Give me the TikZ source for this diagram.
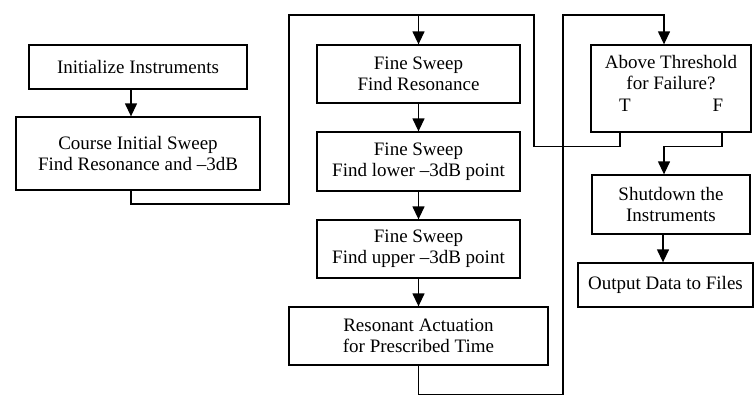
\documentclass[tikz,border=0pt]{standalone}
\usepackage{fontspec}
\setmainfont{Liberation Serif}
\usetikzlibrary{arrows.meta}

\begin{document}
\begin{tikzpicture}[x=1pt,y=-1pt,
    txt/.style={align=center, inner sep=0pt, font=\fontsize{19}{21}\selectfont},
    box/.style={txt, draw, line width=1.3pt},
    wire/.style={line width=1.3pt},
    arr/.style={wire, -{Triangle[length=13pt,width=12pt]}}]

    \useasboundingbox (0,0) rectangle (754,402);

    \node[box, minimum width=218, minimum height=44] (init) at (138,67) {Initialize Instruments};
    \node[box, minimum width=244, minimum height=73] (coarse) at (138,153.5) {Course Initial Sweep\\Find Resonance and –3dB};

    \node[box, minimum width=203, minimum height=58] (fine1) at (418.5,74) {Fine Sweep\\Find Resonance};
    \node[box, minimum width=203, minimum height=59] (fine2) at (418.5,161.5) {Fine Sweep\\Find lower –3dB point};
    \node[box, minimum width=203, minimum height=58] (fine3) at (418.5,249) {Fine Sweep\\Find upper –3dB point};
    \node[box, minimum width=259, minimum height=58] (actuate) at (418.5,336) {Resonant Actuation\\for Prescribed Time};

    \node[box, minimum width=160, minimum height=87] (check) at (671,88.5) {};
    \node[txt] (checktxt) at (671,73) {Above Threshold\\for Failure?};
    \node[txt] (T) at (625,105) {T};
    \node[txt] (F) at (718,105) {F};

    \node[box, minimum width=158, minimum height=59] (shutdown) at (671,204.5) {Shutdown the\\Instruments};
    \node[box, minimum width=175, minimum height=44] (output) at (665.5,285) {Output Data to Files};

    \draw[arr] ([xshift=-7]init.south) -- ([xshift=-7]coarse.north);
    \draw[arr] ([xshift=-7]coarse.south) |- (289,204) -- (289,15) -| (fine1.north);
    \draw[arr] (fine1.south) -- (fine2.north);
    \draw[arr] (fine2.south) -- (fine3.north);
    \draw[arr] (fine3.south) -- (actuate.north);
    \draw[arr] (actuate.south) -- ++(0,29) -| (563,15) -| ([xshift=-7]check.north);

    \draw[wire] ([xshift=-51]check.south) -- ++(0,14) -| (534,15) -- (fine1.north |- 0,15);
    \draw[arr] ([xshift=51]check.south) -- ++(0,14) -| ([xshift=-7]shutdown.north);
    \draw[arr] ([xshift=-8]shutdown.south) -- ([xshift=-2.5]output.north);

\end{tikzpicture}
\end{document}
